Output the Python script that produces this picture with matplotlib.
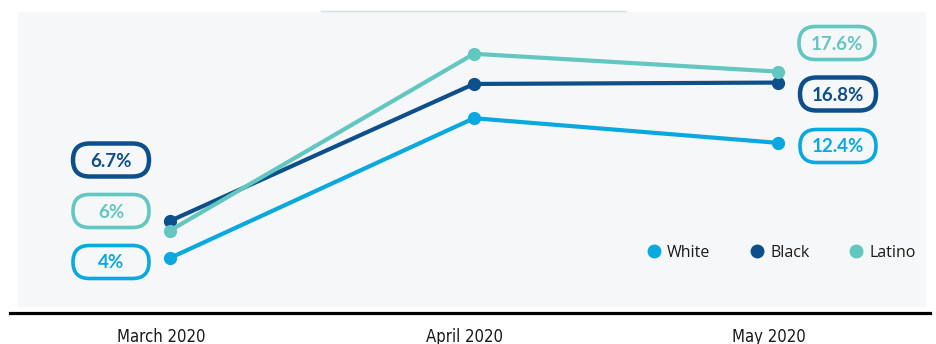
import matplotlib
matplotlib.use("Agg")
import matplotlib.pyplot as plt
from matplotlib.lines import Line2D
from matplotlib.patches import FancyBboxPatch, Rectangle
from matplotlib.transforms import Affine2D, ScaledTranslation

# Unemployment rate by group (%)
months = ["March 2020", "April 2020", "May 2020"]
white = [4.0, 14.2, 12.4]
black = [6.7, 16.7, 16.8]
latino = [6.0, 18.9, 17.6]
groups = ["White", "Black", "Latino"]
first_labels = ["4%", "6.7%", "6%"]
last_labels = ["12.4%", "16.8%", "17.6%"]

colors = {"White": "#0aa8e0", "Black": "#0c4f8a", "Latino": "#62c6c1"}

W, H = 936, 344
fig = plt.figure(figsize=(W / 100, H / 100), dpi=100)
fig.patch.set_facecolor("white")

# pixel transform (top-left origin handled by helper)
px = Affine2D().scale(1 / W, 1 / H) + fig.transFigure


def py(y):
    return H - y


# light panel behind the plot
fig.patches.append(Rectangle((18, py(307)), 908, 295, transform=px,
                             facecolor="#f6f7f8", edgecolor="none", zorder=-2))
# thin grey line at the top
fig.lines.append(Line2D([321, 626], [py(11), py(11)], transform=px,
                        color="#dcdde5", lw=1, zorder=-1))
# black baseline
fig.lines.append(Line2D([10, 930], [py(312.5), py(312.5)], transform=px,
                        color="black", lw=2.3, zorder=-1))

ax = fig.add_axes([18 / W, (H - 312.8) / H, 908 / W, 300.8 / H])
ax.set_facecolor("none")
ax.set_zorder(1)
for s in ax.spines.values():
    s.set_visible(False)

series = {"White": white, "Black": black, "Latino": latino}
x = range(len(months))
for name in groups:
    ax.plot(x, series[name], color=colors[name], lw=3.0, marker="o",
            markersize=8.5, solid_capstyle="round", zorder=3, clip_on=False)

ax.set_xlim(-0.5, 2.487)
ax.set_ylim(0, 21.95)
ax.set_yticks([])
ax.set_xticks(list(x))
ax.set_xticklabels(months, family="DejaVu Sans", fontstretch="condensed",
                   fontsize=12, color="#1a1a1a")
ax.tick_params(axis="x", length=0, pad=11)
for lab in ax.get_xticklabels():
    lab.set_transform(lab.get_transform() + ScaledTranslation(-9 / 100, 0, fig.dpi_scale_trans))

# value pills (centre positions in pixels)
pill_w, pill_h = 76, 33
left_pos = {"White": (111, 262), "Black": (111, 160), "Latino": (111, 211)}
right_pos = {"White": (838, 146), "Black": (838, 94), "Latino": (837, 43)}


def pill(cx, cy, text, color, lw):
    box = FancyBboxPatch((cx - pill_w / 2, py(cy) - pill_h / 2), pill_w, pill_h,
                         boxstyle="round,pad=0,rounding_size=16.5", transform=px,
                         facecolor="none", edgecolor=color, lw=lw, zorder=4)
    fig.patches.append(box)
    fig.text(cx / W, py(cy + 1) / H, text, ha="center", va="center",
             family=["Lato", "DejaVu Sans"], fontweight="bold", fontsize=13.5,
             color=color, zorder=5)


for i, name in enumerate(groups):
    lw = 3.2 if name == "Black" else 2.6
    pill(*left_pos[name], first_labels[i], colors[name], lw)
    pill(*right_pos[name], last_labels[i], colors[name], lw)

handles = [Line2D([], [], marker="o", linestyle="none", markersize=9,
                  color=colors[n]) for n in groups]
leg = ax.legend(handles, groups, ncol=3, frameon=False, loc="center right",
                bbox_to_anchor=(916 / W, py(253) / H), bbox_transform=fig.transFigure,
                borderpad=0, borderaxespad=0, handlelength=0.8, handletextpad=0.45,
                columnspacing=2.5, prop={"family": "Open Sans", "size": 11.5})
for t in leg.get_texts():
    t.set_color("#1a1a1a")

fig.savefig("out.png", dpi=100)
